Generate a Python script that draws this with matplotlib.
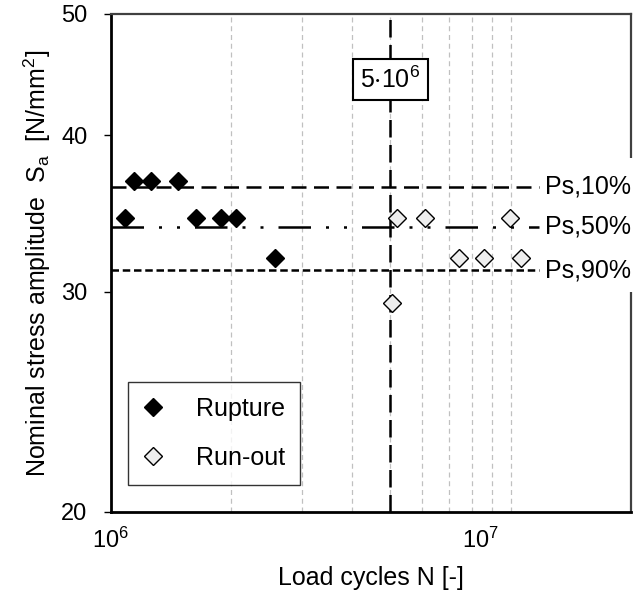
import matplotlib
matplotlib.use("Agg")
import matplotlib.pyplot as plt
import matplotlib.transforms as mtransforms
from matplotlib.patches import Rectangle

plt.rcParams['font.family'] = ['Liberation Sans', 'DejaVu Sans']

# data
rupture_n = [1.083e6, 1.14e6, 1.257e6, 1.468e6, 1.628e6, 1.888e6, 2.06e6, 2.57e6]
rupture_s = [34.35, 36.8, 36.8, 36.8, 34.35, 34.35, 34.35, 31.9]
runout_n = [5.06e6, 5.2e6, 6.12e6, 9.95e6, 7.43e6, 8.56e6, 10.6e6]
runout_s = [29.4, 34.35, 34.35, 34.35, 31.9, 31.9, 31.9]

ps_labels = ["Ps,10%", "Ps,50%", "Ps,90%"]
ps_values = [36.4, 33.8, 31.2]
n_limit = 5e6
x_end = 1.18e7
fs = 18

fig = plt.figure(figsize=(6.39, 5.90), dpi=100)
ax = fig.add_axes([111 / 639, 1 - 512 / 590, 520 / 639, 498 / 590])
ax.set_xscale('log')
ax.set_yscale('log')
ax.set_xlim(1e6, 2e7)
ax.set_ylim(20, 50)

# vertical grid at minor decades
for n in [2e6, 3e6, 4e6, 5e6, 6e6, 7e6, 8e6, 9e6, 1e7]:
    ax.axvline(n, color='#c0c0c0', lw=0.9, ls=(0, (4, 3)), zorder=0)

# probability lines
styles = [(0, (6, 3)), (0, (13, 6, 1.2, 6, 1.2, 6)), (0, (3, 1.5))]
for v, st in zip(ps_values, styles):
    ax.plot([1e6, x_end], [v, v], color='black', lw=1.8, ls=st, zorder=2)

ax.axvline(n_limit, color='black', lw=1.8, ls=(0, (7, 3)), zorder=2)

ax.plot(rupture_n, rupture_s, 'D', color='black', ms=9, label='Rupture', zorder=4)
ax.plot(runout_n, runout_s, 'D', mfc='#eeeeee', mec='black', mew=1.0, ms=9,
        label='Run-out', zorder=4)

# white block over right spine behind Ps labels
ax.add_patch(Rectangle((0.835, 0.442), 0.2, 0.269, transform=ax.transAxes,
                       facecolor='white', edgecolor='none', clip_on=False, zorder=5))
for lab, v in zip(ps_labels, ps_values):
    ax.text(1.22e7, v, lab, fontsize=fs, va='center', ha='left', zorder=6,
            clip_on=False)

ax.text(n_limit, 44.3, r"5$\mathregular{\cdot 10^{6}}$", fontsize=fs, ha='center',
        va='center', zorder=6,
        bbox=dict(boxstyle='square,pad=0.3', facecolor='white',
                  edgecolor='black', lw=1.5))

ax.set_yticks([20, 30, 40, 50])
ax.set_yticklabels(['20', '30', '40', '50'])
ax.yaxis.set_minor_locator(matplotlib.ticker.NullLocator())
ax.set_xticks([1e6, 1e7])
ax.set_xticklabels([r"$\mathregular{10^{6}}$", r"$\mathregular{10^{7}}$"])
ax.xaxis.set_minor_locator(matplotlib.ticker.NullLocator())
ax.tick_params(axis='both', labelsize=17)
ax.tick_params(axis='x', length=0, pad=11)
ax.tick_params(axis='y', length=5, width=1, direction='out', pad=12)
offset = mtransforms.ScaledTranslation(-0.3, 0, fig.dpi_scale_trans)
lbls = ax.get_xticklabels()
lbls[1].set_transform(lbls[1].get_transform() + offset)

for side in ['left', 'bottom']:
    ax.spines[side].set_linewidth(2)
    ax.spines[side].set_color('black')
for side in ['top', 'right']:
    ax.spines[side].set_linewidth(1.6)
    ax.spines[side].set_color('#404040')

ax.set_xlabel("Load cycles N [-]", fontsize=fs, labelpad=10)
ax.set_ylabel(r"Nominal stress amplitude  S$\mathregular{_a}$  [N/mm$\mathregular{^2}$]",
              fontsize=fs, labelpad=6)

leg = ax.legend(loc='lower left', bbox_to_anchor=(0.033, 0.054), borderaxespad=0,
                fontsize=fs, frameon=True, fancybox=False, edgecolor='black',
                borderpad=0.6, labelspacing=1.0, handletextpad=1.3,
                handlelength=0.8)
leg.get_frame().set_linewidth(1.0)
leg.set_zorder(7)

fig.savefig("out.png", dpi=100)
